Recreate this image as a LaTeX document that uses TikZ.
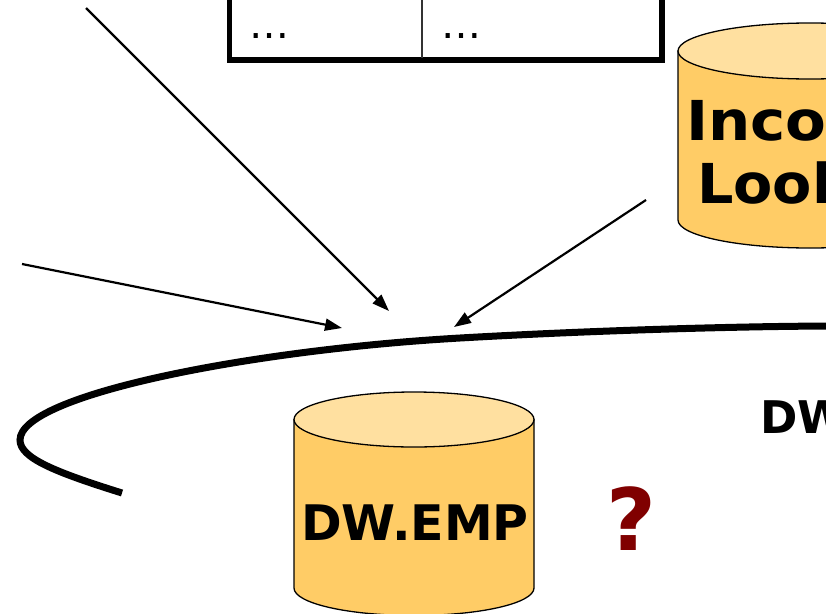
\documentclass[tikz,border=0pt]{standalone}
\usepackage{fontspec}
\setmainfont{DejaVu Sans}
\usetikzlibrary{arrows.meta}
\definecolor{cylside}{RGB}{255,204,102}
\definecolor{cyltop}{RGB}{255,224,160}
\definecolor{qred}{RGB}{128,0,0}
\tikzset{
  flow/.style={line width=2.2pt, -{Triangle[length=17pt,width=12pt]}},
  cylbody/.style={fill=cylside, draw=black, line width=1.3pt},
  cyllid/.style={fill=cyltop, draw=black, line width=1.3pt},
  dbtext/.style={anchor=base, inner sep=0pt, font=\bfseries},
  cell/.style={anchor=base, inner sep=0pt, font=\fontsize{40}{48}\selectfont},
}
\begin{document}
\begin{tikzpicture}[x=1pt,y=-1pt]
\useasboundingbox (0,0) rectangle (826,613);
\clip (0,0) rectangle (826,613);

% table (lower rows)
\draw[line width=5.3pt] (229.5,-20) -- (229.5,60) -- (662,60) -- (662,-20);
\draw[line width=1.3pt, black!80] (422,-20) -- (422,58);
\node[cell] (c1) at (269,38) {…};
\node[cell] (c2) at (461,38) {…};

% Income lookup cylinder
\filldraw[cylbody] (678,51) -- (678,220)
  arc[start angle=180, end angle=0, x radius=132, y radius=28] -- (942,51) -- cycle;
\filldraw[cyllid] (810,51) ellipse[x radius=132, y radius=28];
\node[dbtext, anchor=base west, font=\bfseries\fontsize{55}{64}\selectfont] (inc1) at (686,140) {\scalebox{1.08}[1]{Income}};
\node[dbtext, anchor=base west, font=\bfseries\fontsize{55}{64}\selectfont] (inc2) at (697,203) {\scalebox{1.04}[1]{Lookup}};

% DW.EMP cylinder
\filldraw[cylbody] (294,419.5) -- (294,588)
  arc[start angle=180, end angle=0, x radius=120, y radius=27.5] -- (534,419.5) -- cycle;
\filldraw[cyllid] (414,419.5) ellipse[x radius=120, y radius=27.5];
\node[dbtext, font=\bfseries\fontsize{49}{58}\selectfont] (emp) at (415,540) {DW.EMP};

% warehouse boundary
\draw[line width=7pt] (122,493) .. controls (55,472) and (20,458) .. (20,440)
  .. controls (20,395) and (250,350) .. (460,338)
  .. controls (600,330) and (750,326) .. (840,326);

\node[anchor=base west, inner sep=0pt, font=\bfseries\fontsize{45}{54}\selectfont] (dw) at (760,433) {DW};
\node[anchor=base, inner sep=0pt, text=qred, font=\bfseries\fontsize{86}{100}\selectfont] (q) at (631,550) {?};

% incoming flows
\coordinate (s1) at (86,8);
\coordinate (t1) at (389,311);
\coordinate (s2) at (22,264);
\coordinate (t2) at (342,328);
\coordinate (s3) at (646,200);
\coordinate (t3) at (454,327);
\draw[flow] (s1) -- (t1);
\draw[flow] (s2) -- (t2);
\draw[flow] (s3) -- (t3);
\end{tikzpicture}
\end{document}
